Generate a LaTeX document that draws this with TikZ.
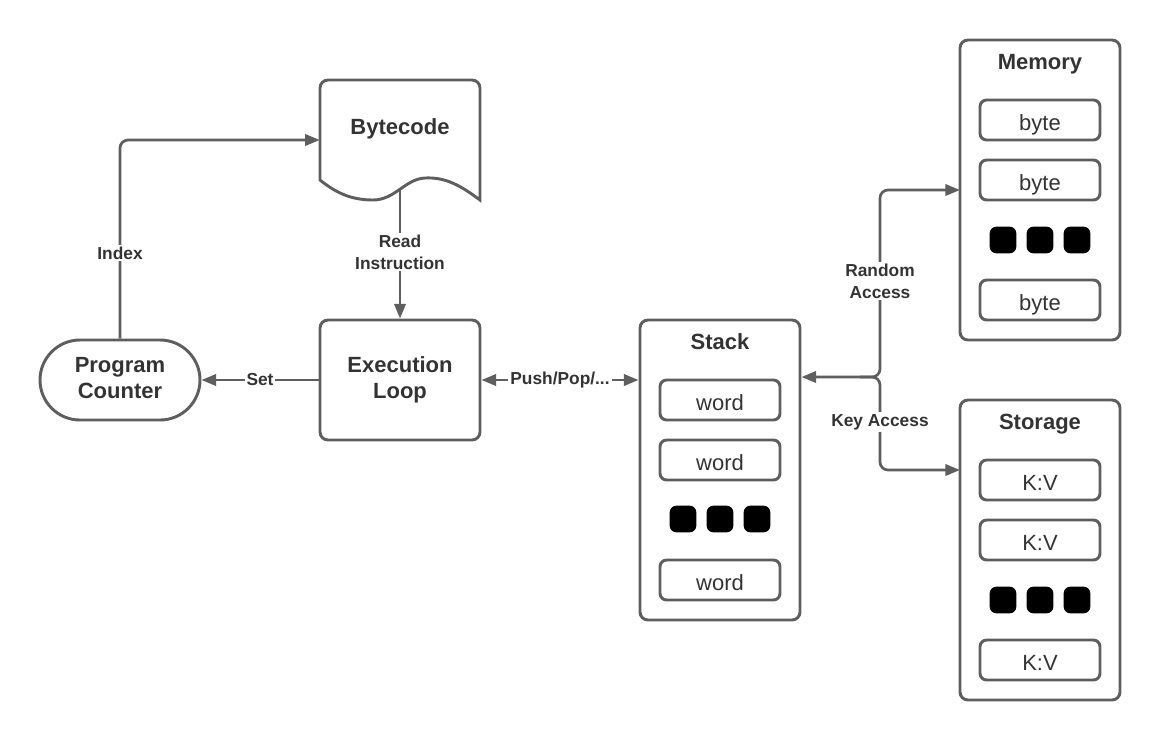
\documentclass[tikz,border=0pt]{standalone}
\usepackage{fontspec}
\setmainfont{Liberation Sans}
\usetikzlibrary{arrows.meta,calc}
\definecolor{ln}{HTML}{5E5E5E}
\definecolor{tx}{HTML}{333333}
\begin{document}
\begin{tikzpicture}[x=0.75pt,y=-0.75pt,
  box/.style={draw=ln,line width=2.2pt,rounded corners=6pt,minimum width=120pt,minimum height=90pt,inner sep=0pt,align=center,text=tx,font=\fontsize{16.5}{19.5}\selectfont\bfseries},
  container/.style={draw=ln,line width=2.2pt,rounded corners=6pt,minimum width=120pt,minimum height=225pt,inner sep=0pt},
  title/.style={text=tx,font=\fontsize{16.5}{19.5}\selectfont\bfseries,inner sep=0pt,text height=15pt,text depth=3.5pt},
  cell/.style={draw=ln,line width=2.2pt,rounded corners=5pt,minimum width=90pt,minimum height=30pt,inner sep=0pt,text=tx,font=\fontsize{16.5}{19.5}\selectfont,text height=16.5pt,text depth=1pt},
  blob/.style={fill=black,rounded corners=5pt,minimum width=20pt,minimum height=20pt,inner sep=0pt},
  conn/.style={draw=ln,line width=2pt,-{Triangle[length=11pt,width=8.5pt]}},
  lbl/.style={fill=white,text=tx,font=\fontsize{13}{16.5}\selectfont\bfseries,align=center,inner sep=1.5pt},
  Tri/.tip={Triangle[length=11pt,width=8.5pt]}
]
\useasboundingbox (0,0) rectangle (1160,740);

% Bytecode document shape
\draw[ln,line width=2.2pt] (320,180) [rounded corners=6pt] -- (320,80) -- (480,80) [sharp corners] -- (480,200)
  .. controls (460,185) and (445,177) .. (425,178)
  .. controls (405,179) and (395,200) .. (373,200)
  .. controls (350,200) and (335,192) .. (320,180) -- cycle;
\node[minimum width=120pt,minimum height=90pt,inner sep=0pt] (bc) at (400,140) {};
\node[title] (bctitle) at (400,127) {Bytecode};
\coordinate (bcout) at (400,190);

% Execution loop and program counter
\node[box] (ex) at (400,380) {Execution\\Loop};
\node[box,rounded corners=30pt,minimum height=60pt] (pc) at (120,380) {};
\node[text=tx,font=\fontsize{16.5}{19.5}\selectfont\bfseries,align=center,inner sep=0pt] (pctext) at (120,378) {Program\\Counter};

% Stack
\node[container] (st) at (720,470) {};
\node[title] (sttitle) at (720,342) {Stack};
\node[cell] (w1) at (720,400) {word};
\node[cell] (w2) at (720,460) {word};
\node[blob] (sd1) at (683,519) {};
\node[blob] (sd2) at (720,519) {};
\node[blob] (sd3) at (757,519) {};
\node[cell] (w3) at (720,580) {word};

% Memory
\node[container] (mem) at (1040,190) {};
\node[title] (memtitle) at (1040,62) {Memory};
\node[cell] (b1) at (1040,120) {byte};
\node[cell] (b2) at (1040,180) {byte};
\node[blob] (md1) at (1003,240) {};
\node[blob] (md2) at (1040,240) {};
\node[blob] (md3) at (1077,240) {};
\node[cell] (b3) at (1040,300) {byte};

% Storage
\node[container] (sto) at (1040,550) {};
\node[title] (stotitle) at (1040,422) {Storage};
\node[cell] (k1) at (1040,480) {K:V};
\node[cell] (k2) at (1040,540) {K:V};
\node[blob] (kd1) at (1003,600) {};
\node[blob] (kd2) at (1040,600) {};
\node[blob] (kd3) at (1077,600) {};
\node[cell] (k3) at (1040,660) {K:V};

% Connectors
\draw[conn,rounded corners=6pt] (pc.north) |- (bc.west);
\node[lbl] at (120,253) {Index};

\draw[conn] (bcout) -- (ex.north);
\node[lbl] at (400,252) {Read\\Instruction};

\draw[conn] (ex.west) -- (pc.east);
\node[lbl] at (260,380) {Set};

\draw[conn,{Tri}-{Tri}] (ex.east) -- (ex.east -| st.west);
\node[lbl] at (560,380) {Push/Pop/...};

\coordinate (jn) at (880,377);
\coordinate (memin) at (960,190);
\coordinate (stoin) at (960,470);
\draw[conn,{Tri}-{Tri},rounded corners=6pt] (st.east |- jn) -- (jn) |- (memin);
\draw[conn,rounded corners=6pt] (860,377) -- (jn) |- (stoin);
\node[lbl] at (880,281) {Random\\Access};
\node[lbl] at (880,422) {Key Access};
\end{tikzpicture}
\end{document}
